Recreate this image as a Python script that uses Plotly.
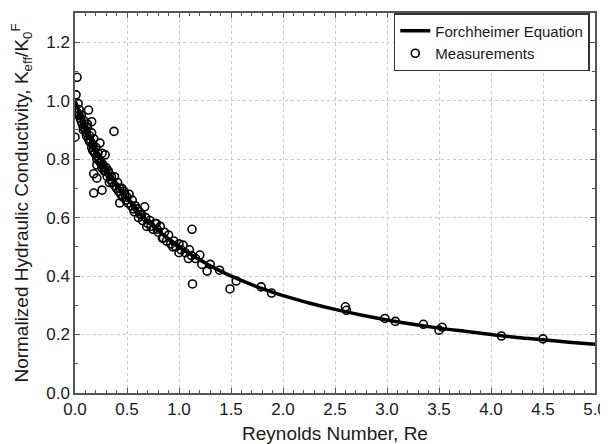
import plotly.graph_objects as go

# Forchheimer equation curve
curve_re = [0.0, 0.1, 0.2, 0.3, 0.4, 0.5, 0.6, 0.7, 0.8, 0.9, 1.0, 1.2, 1.4, 1.6, 1.8, 2.0,
            2.25, 2.5, 2.75, 3.0, 3.25, 3.5, 3.75, 4.0, 4.25, 4.5, 4.75, 5.0]
curve_k = [1.0, 0.909, 0.833, 0.769, 0.714, 0.667, 0.625, 0.588, 0.556, 0.526, 0.5, 0.455,
           0.417, 0.385, 0.357, 0.333, 0.308, 0.286, 0.267, 0.25, 0.235, 0.222, 0.211,
           0.2, 0.19, 0.182, 0.174, 0.167]

meas_re = [0.00, 0.02, 0.01, 0.03, 0.04, 0.05, 0.06, 0.07, 0.08, 0.09, 0.10, 0.11, 0.12, 0.13,
           0.13, 0.14, 0.15, 0.16, 0.16, 0.17, 0.18, 0.18, 0.19, 0.20, 0.21, 0.21, 0.22, 0.23,
           0.24, 0.25, 0.26, 0.26, 0.27, 0.28, 0.29, 0.30, 0.31, 0.32, 0.33, 0.34, 0.35, 0.36,
           0.38, 0.38, 0.40, 0.41, 0.42, 0.43, 0.44, 0.45, 0.46, 0.48, 0.49, 0.50, 0.51, 0.52,
           0.54, 0.55, 0.57, 0.58, 0.60, 0.61, 0.62, 0.64, 0.65, 0.67, 0.68, 0.70, 0.72, 0.73,
           0.75, 0.77, 0.78, 0.80, 0.82, 0.84, 0.86, 0.88, 0.90, 0.92, 0.95, 0.97, 1.00, 1.02,
           1.04, 1.06, 1.09, 1.10, 1.12, 1.125, 1.13, 1.16, 1.20, 1.22, 1.27, 1.30, 1.39, 1.49,
           1.55, 1.79, 1.89, 0.02, 0.04, 0.06, 0.08, 0.11, 0.14, 0.17, 0.21, 0.26, 0.29, 0.18,
           0.21, 0.18, 0.26, 0.375, 0.43, 0.12, 0.16, 0.24, 0.33, 0.47, 0.56, 0.63, 0.69, 0.79,
           0.85, 0.94, 1.00,
           2.60, 2.61, 2.98, 3.08, 3.35, 3.50, 3.53, 4.10, 4.50]
meas_k = [0.875, 1.08, 1.02, 0.99, 0.97, 0.94, 0.95, 0.92, 0.91, 0.93, 0.90, 0.89, 0.91, 0.87,
          0.968, 0.88, 0.86, 0.928, 0.84, 0.85, 0.83, 0.87, 0.82, 0.84, 0.81, 0.78, 0.82, 0.80,
          0.855, 0.79, 0.77, 0.82, 0.78, 0.76, 0.815, 0.77, 0.74, 0.76, 0.75, 0.73, 0.74, 0.72,
          0.71, 0.74, 0.70, 0.72, 0.69, 0.70, 0.68, 0.70, 0.67, 0.68, 0.66, 0.67, 0.65, 0.68,
          0.64, 0.66, 0.62, 0.64, 0.63, 0.60, 0.62, 0.61, 0.59, 0.637, 0.60, 0.58, 0.59, 0.57,
          0.56, 0.58, 0.58, 0.55, 0.57, 0.53, 0.55, 0.52, 0.54, 0.51, 0.52, 0.50, 0.51, 0.49,
          0.506, 0.48, 0.46, 0.49, 0.47, 0.56, 0.373, 0.46, 0.472, 0.44, 0.417, 0.44, 0.42, 0.356,
          0.383, 0.363, 0.342, 0.96, 0.95, 0.93, 0.90, 0.88, 0.86, 0.83, 0.80, 0.77, 0.76, 0.75,
          0.735, 0.684, 0.694, 0.895, 0.65, 0.92, 0.89, 0.79, 0.72, 0.69, 0.63, 0.61, 0.57, 0.56,
          0.53, 0.50, 0.48,
          0.295, 0.283, 0.255, 0.245, 0.235, 0.215, 0.225, 0.195, 0.185]

x_ticks = [0.0, 0.5, 1.0, 1.5, 2.0, 2.5, 3.0, 3.5, 4.0, 4.5, 5.0]
y_ticks = [0.0, 0.2, 0.4, 0.6, 0.8, 1.0, 1.2]

FONT = "Liberation Sans, Arial"

fig = go.Figure()
fig.add_trace(go.Scatter(
    x=meas_re, y=meas_k, mode="markers", name="Measurements",
    marker=dict(symbol="circle-open", size=8, color="black", line=dict(width=1.6, color="black")),
))
fig.add_trace(go.Scatter(
    x=curve_re, y=curve_k, mode="lines", name="Forchheimer Equation",
    line=dict(color="black", width=3.5, shape="spline"),
))

axis_common = dict(
    showline=True, linecolor="#555555", linewidth=1.5, mirror="ticks",
    ticks="inside", ticklen=5, tickcolor="#555555",
    showgrid=True, gridcolor="#c8c8c8", griddash="dot", gridwidth=1,
    zeroline=False, automargin=False,
    tickfont=dict(family=FONT, size=17, color="#1a1a1a"),
)

fig.update_xaxes(
    range=[0, 5.0], tickvals=x_ticks, ticktext=[f"{v:.1f}" for v in x_ticks],
    minor=dict(dtick=0.1, ticks="inside", ticklen=3, tickcolor="#555555", showgrid=False),
    title=dict(text="Reynolds Number, Re",
               font=dict(family=FONT, size=19, color="#1a1a1a")),
    **axis_common,
)
fig.update_yaxes(
    range=[0, 1.3], tickvals=y_ticks, ticktext=[f"{v:.1f}" for v in y_ticks],
    minor=dict(dtick=0.1, ticks="inside", ticklen=3, tickcolor="#555555", showgrid=False),
    title=dict(text="Normalized Hydraulic Conductivity, K<sub>eff</sub>/K<sub>0</sub><sup>F</sup>",
               font=dict(family=FONT, size=19, color="#1a1a1a")),
    **axis_common,
)

# page body has an 8 px margin, so the figure is drawn 8 px in from the top-left
fig.update_layout(
    width=600, height=436,
    margin=dict(l=67, r=13, t=5, b=51),
    plot_bgcolor="white", paper_bgcolor="white",
    legend=dict(
        x=0.99, y=1.0, xanchor="right", yanchor="top",
        bgcolor="white", bordercolor="#333333", borderwidth=1.5,
        font=dict(family=FONT, size=15, color="#1a1a1a"),
        traceorder="reversed", tracegroupgap=0, itemwidth=30,
    ),
)

fig.write_html("out.html")
